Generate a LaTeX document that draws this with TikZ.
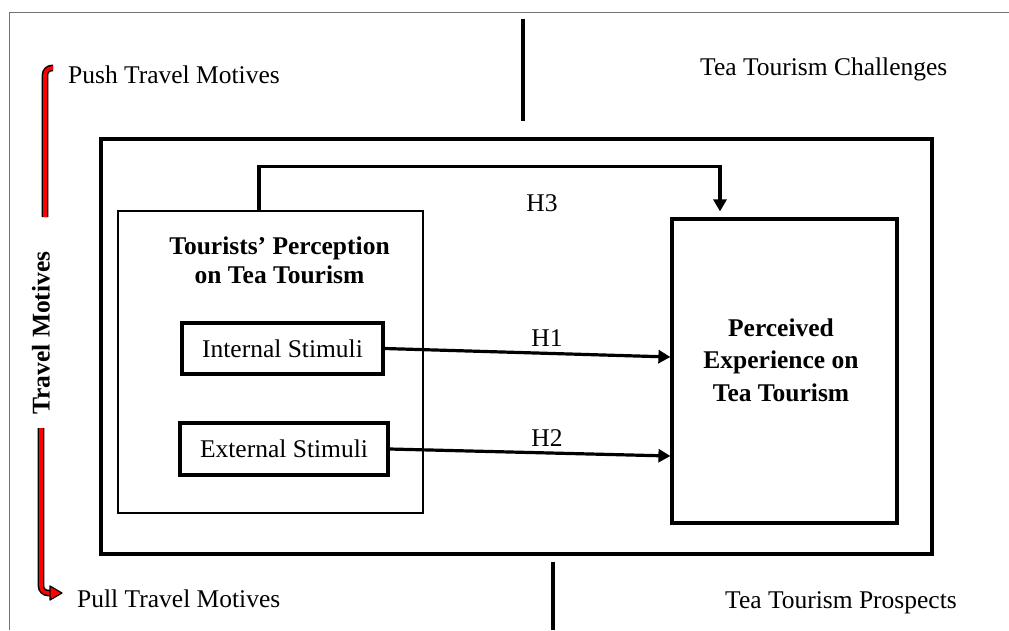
\documentclass[tikz,border=0pt]{standalone}
\usepackage{fontspec}
\setmainfont{Liberation Serif}
\usetikzlibrary{arrows.meta}
\begin{document}
\begin{tikzpicture}[x=1pt,y=-1pt,
  txt/.style={font=\fontsize{25.5}{29}\selectfont, inner sep=0pt},
  btxt/.style={font=\fontsize{25.5}{29}\selectfont\bfseries, inner sep=0pt, align=center},
  bigbox/.style={draw, line width=3.2pt, inner sep=0pt},
  thinbox/.style={draw, line width=1.7pt, inner sep=0pt},
  stimbox/.style={draw, line width=3.2pt, inner sep=0pt, font=\fontsize{25.5}{29}\selectfont},
  arr/.style={line width=3.2pt, -{Triangle[width=13pt,length=12pt]}},
  plain/.style={line width=3.2pt},
  redband/.style={line width=1.5pt, double=red, double distance=3.6pt},
  pageedge/.style={draw=black!55, line width=1pt},
]
\useasboundingbox (0,0) rectangle (1009,630);
% page edge
\coordinate (pe1) at (9,630);
\coordinate (pe2) at (9,12);
\coordinate (pe3) at (1009,12);
\draw[pageedge] (pe1) -- (pe2) -- (pe3);

% separator lines
\coordinate (t1) at (523,19);
\coordinate (t2) at (523,121);
\draw[plain] (t1) -- (t2);
\coordinate (b1) at (553,562);
\coordinate (b2) at (553,630);
\draw[plain] (b1) -- (b2);

% boxes
\node[bigbox, minimum width=831pt, minimum height=415pt] (outer) at (516.5,346.5) {};
\node[thinbox, minimum width=305pt, minimum height=302pt] (perc) at (270.5,362) {};
\node[bigbox, minimum width=225pt, minimum height=304pt] (exp) at (784.5,371) {};
\node[stimbox, minimum width=201pt, minimum height=51pt] (int) at (282.5,348.5) {Internal Stimuli};
\node[stimbox, minimum width=208pt, minimum height=52pt] (ext) at (284,449) {External Stimuli};

% box titles
\node[btxt] (perct) at (279.5,260) {Tourists’ Perception\\on Tea Tourism};
\node[btxt, font=\fontsize{25.5}{32.5}\selectfont\bfseries] (expt) at (781,360) {Perceived\\Experience on\\Tea Tourism};

% connectors
\draw[arr] (int.east) -- ([yshift=14pt]exp.west);
\draw[arr] (ext.east) -- ([yshift=-85pt]exp.west);
\draw[arr] ([xshift=-11.5pt]perc.north) -- ++(0,-44) -| ([xshift=-64.5pt,yshift=6pt]exp.north);

\node[txt, anchor=base] (h3) at (542,211) {H3};
\node[txt, anchor=base] (h1) at (547,346) {H1};
\node[txt, anchor=base] (h2) at (547,446) {H2};

% outside texts
\node[txt, anchor=base west] (push) at (68,83) {Push Travel Motives};
\node[txt, anchor=base west] (pull) at (77,607) {Pull Travel Motives};
\node[txt, anchor=base west] (chal) at (700,75) {Tea Tourism Challenges};
\node[txt, anchor=base west] (pros) at (725,608) {Tea Tourism Prospects};

% travel motives band
\node[btxt, rotate=90] (tm) at (41,333) {Travel Motives};
\coordinate (r1) at (53,68);
\coordinate (r2) at (45,68);
\coordinate (r3) at (45,217);
\draw[redband, rounded corners=7pt] (r1) -- (r2) -- (r3);
\coordinate (r4) at (41,428);
\coordinate (r5) at (41,593);
\coordinate (r6) at (51,593);
\draw[redband, rounded corners=7pt] (r4) -- (r5) -- (r6);
\coordinate (ah1) at (50,586);
\coordinate (ah2) at (62,593);
\coordinate (ah3) at (50,600);
\draw[fill=red, line width=1.2pt, line join=round] (ah1) -- (ah2) -- (ah3) -- cycle;
\end{tikzpicture}
\end{document}
